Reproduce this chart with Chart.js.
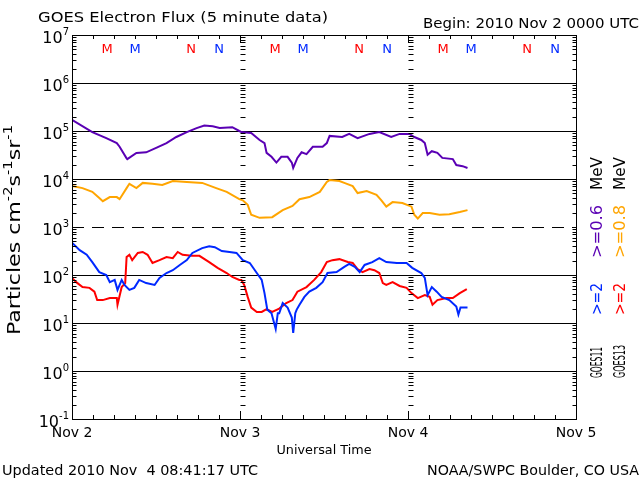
<!DOCTYPE html>
<html><head><meta charset="utf-8">
<script src="https://cdn.jsdelivr.net/npm/chart.js@4.4.0/dist/chart.umd.min.js"></script>
<style>html,body{margin:0;padding:0;background:#fff;overflow:hidden}canvas{display:block}</style>
</head><body>
<canvas id="c" width="640" height="480" style="width:640px;height:480px"></canvas>
<script>
// ---------- DATA (hours since 2010 Nov 2 00:00 UTC, flux in particles cm^-2 s^-1 sr^-1) ----------
const purpleT = [0,2.9,4.9,6.4,6.8,7.8,7.9,9.2,10.6,12.1,13.5,14.9,16.4,17.8,18.9,20.1,21.1,22.9,23.9,24.2,25.6,26.8,27.5,27.8,28.5,29.2,29.9,30.8,31.4,31.6,32.2,32.8,33.5,34.4,35.8,36.4,36.8,38.6,39.6,40.8,42.5,43.9,45.6,46.8,48.2,48.9,49.9,50.4,50.8,51.4,52.2,52.9,54.4,54.9,55.8,56.5];
const purpleV = [1.7e5,9.5e4,7.1e4,5.6e4,4.7e4,2.7e4,2.6e4,3.5e4,3.6e4,4.5e4,5.6e4,7.5e4,9.5e4,1.15e5,1.3e5,1.25e5,1.15e5,1.2e5,1.0e5,9.5e4,9.1e4,6.5e4,5.6e4,3.5e4,2.9e4,2.2e4,2.9e4,2.9e4,2.2e4,1.7e4,2.75e4,3.6e4,3.3e4,4.7e4,4.7e4,5.6e4,7.9e4,7.5e4,8.7e4,7.1e4,8.7e4,9.5e4,7.5e4,8.7e4,8.7e4,7.5e4,6.5e4,5.6e4,3.2e4,3.8e4,3.5e4,2.75e4,2.6e4,1.95e4,1.85e4,1.7e4];

const orangeT = [0,1.5,2.9,3.9,4.4,5.4,6.4,6.8,7.8,8.2,9.2,10.1,11.5,12.9,14.4,16.4,18.6,20.6,22.1,23.9,24.4,25.1,25.6,26.8,28.6,30.1,31.5,32.5,33.9,35.4,36.4,36.8,38.2,38.9,40.1,40.8,42.1,43.5,44.2,44.9,45.8,47.2,48.5,48.9,49.4,50.1,51.1,52.5,53.9,55.4,56.5];
const orangeV = [7150,6450,5400,4000,3450,4200,4200,3800,6450,7950,6450,8300,7950,7500,9100,8700,8300,6450,5400,3800,3600,2900,1800,1550,1600,2250,2750,3800,4200,5400,8700,9500,9100,8300,7100,5100,5600,4700,3600,2650,3300,3150,2650,1800,1500,1950,1950,1800,1850,2050,2250];

const blueT = [0,1.1,2.1,2.9,3.9,4.9,5.4,6.1,6.5,7.1,7.5,8.2,8.9,9.6,10.6,11.8,12.5,13.5,14.4,15.4,16.4,17.2,18.6,19.6,20.4,21.4,22.5,23.5,24.4,25.4,26.4,27.1,27.5,27.9,28.5,29.1,29.4,29.6,30.1,30.8,31.4,31.6,31.9,32.1,32.5,33.2,33.9,34.9,35.8,36.5,37.8,38.9,39.6,40.4,41.1,41.8,42.9,43.9,44.9,46.4,47.8,48.6,49.9,50.4,50.8,51.4,52.1,52.8,53.9,54.9,55.2,55.5,56.5];
const blueV = [470,330,265,185,115,100,71,79,49,79,62,49,54,79,68,62,87,110,126,162,204,288,363,398,380,316,302,288,204,178,110,79,42,19,16,7.5,16,16,26,21,13,6.2,16,19,24,35,45,54,71,110,115,148,170,148,115,162,186,224,186,178,178,141,110,87,38,56,45,35,30,22,15,21,21];

const redT = [0,0.6,1.5,2.5,3.2,3.6,4.4,5.4,6.4,6.5,7.1,7.6,7.8,8.2,8.6,9.4,10.1,10.8,11.5,12.5,13.5,14.4,15.1,15.8,17.1,18.2,19.6,20.8,22.1,22.9,23.9,24.2,24.6,25.1,25.6,26.4,27.1,27.8,28.6,29.6,30.6,31.5,32.2,33.5,34.6,35.6,36.4,37.2,38.2,39.4,40.1,40.8,41.5,42.5,43.2,43.9,44.4,44.9,45.8,46.8,47.8,48.5,49.4,50.4,51.1,51.5,52.2,53.5,54.4,55.4,56.4];
const redV = [87,71,56,54,45,30,30,33,33,24,56,68,237,263,204,288,302,263,178,204,237,224,302,263,251,251,186,141,110,91,79,79,62,35,21,17,17,19.5,17,20,26,30,45,56,79,115,186,204,214,186,178,133,115,133,126,110,68,62,71,59,54,42,33,38,35,24,30,33,33,42,51];

const seriesNames  = ['GOES13 >=0.8 MeV','GOES11 >=0.6 MeV','GOES11 >=2 MeV','GOES13 >=2 MeV'];
const yTickExponents = [-1,0,1,2,3,4,5,6,7];
const xTickHours = [0,24,48,72];
const xTickLabels = ['Nov 2','Nov 3','Nov 4','Nov 5'];
const mnLabels = ['M','M','N','N'];
const mnHours  = [5,9,17,21];
const mnSat    = ['G13','G11','G13','G11'];
const days = [0,1,2];

const C_PURPLE = '#5a00b4', C_ORANGE = '#ffa500', C_BLUE = '#0028ff', C_RED = '#ff0000';
const FONT = '"DejaVu Sans", sans-serif';

function pts(t, v) { return t.map((x, i) => ({x: x, y: v[i]})); }

function hText(ctx, text, x, y, size, width, align, color) {
  ctx.save();
  ctx.font = size + 'px ' + FONT;
  const w = ctx.measureText(text).width;
  ctx.translate(x, y);
  ctx.scale(width / w, 1);
  ctx.textAlign = align; ctx.textBaseline = 'middle';
  ctx.fillStyle = color || '#000';
  ctx.fillText(text, 0, 0);
  ctx.restore();
}
function vText(ctx, text, cx, yBottom, yTop, size, color) {
  ctx.save();
  ctx.font = size + 'px ' + FONT;
  const w = ctx.measureText(text).width;
  ctx.translate(cx, yBottom);
  ctx.rotate(-Math.PI / 2);
  ctx.scale((yBottom - yTop) / w, 1);
  ctx.textAlign = 'left'; ctx.textBaseline = 'middle';
  ctx.fillStyle = color;
  ctx.fillText(text, 0, 0);
  ctx.restore();
}

const decor = {
  id: 'decor',
  beforeDatasetsDraw(chart) {
    const ctx = chart.ctx, xs = chart.scales.x, ys = chart.scales.y, a = chart.chartArea;
    ctx.save();
    ctx.strokeStyle = '#000'; ctx.lineWidth = 1;
    for (const e of yTickExponents) {
      if (e <= -1 || e >= 7) continue;
      const y = Math.round(ys.getPixelForValue(Math.pow(10, e))) + 0.5;
      ctx.setLineDash(e === 3 ? [12, 8] : []);
      ctx.beginPath(); ctx.moveTo(a.left, y); ctx.lineTo(a.right, y); ctx.stroke();
    }
    ctx.setLineDash([]);
    ctx.restore();
  },
  afterDraw(chart) {
    const ctx = chart.ctx, xs = chart.scales.x, ys = chart.scales.y, a = chart.chartArea;
    ctx.save();
    ctx.strokeStyle = '#000'; ctx.lineWidth = 1;
    // frame
    ctx.strokeRect(Math.round(a.left) + 0.5, Math.round(a.top) + 0.5, Math.round(a.right - a.left), Math.round(a.bottom - a.top));
    // minor log ticks on axes and day lines
    const cols = [{x: a.left, d: 4}, {x: a.right, d: -4}];
    for (const h of [24, 48]) cols.push({x: xs.getPixelForValue(h), d: 5});
    ctx.beginPath();
    for (let e = -1; e < 7; e++) {
      for (let m = 2; m <= 9; m++) {
        const y = Math.round(ys.getPixelForValue(m * Math.pow(10, e))) + 0.5;
        for (const c of cols) { const x0 = Math.round(c.x) + 0.5; ctx.moveTo(x0, y); ctx.lineTo(x0 + c.d, y); }
      }
    }
    // time ticks every 3 h
    for (let h = 3; h < 72; h += 3) {
      const x = Math.round(xs.getPixelForValue(h)) + 0.5;
      const L = (h % 24 === 0) ? 8 : 4;
      ctx.moveTo(x, a.top); ctx.lineTo(x, a.top + L);
      ctx.moveTo(x, a.bottom); ctx.lineTo(x, a.bottom - L);
    }
    ctx.stroke();

    // y tick labels
    for (const e of yTickExponents) {
      const y = ys.getPixelForValue(Math.pow(10, e));
      const ex = e < 0 ? '-' + (-e) : String(e);
      ctx.font = '10px ' + FONT; ctx.textAlign = 'right'; ctx.textBaseline = 'middle'; ctx.fillStyle = '#000';
      const ew = ctx.measureText(ex).width;
      ctx.fillText(ex, 69, y - 3);
      ctx.font = '16px ' + FONT;
      ctx.fillText('10', 69 - ew, y + 4);
    }
    // x tick labels
    ctx.font = '14px ' + FONT; ctx.textAlign = 'center'; ctx.textBaseline = 'middle';
    xTickHours.forEach((h, i) => ctx.fillText(xTickLabels[i], xs.getPixelForValue(h), 433));
    hText(ctx, 'Universal Time', (a.left + a.right) / 2, 451, 13, 95, 'center');

    // M / N markers
    ctx.font = '13px ' + FONT; ctx.textAlign = 'center'; ctx.textBaseline = 'middle';
    for (const d of days) mnHours.forEach((h, i) => {
      ctx.fillStyle = mnSat[i] === 'G13' ? C_RED : C_BLUE;
      ctx.fillText(mnLabels[i], xs.getPixelForValue(d * 24 + h), 50);
    });

    // header / footer
    hText(ctx, 'GOES Electron Flux (5 minute data)', 38, 18, 14, 290, 'left');
    hText(ctx, 'Begin: 2010 Nov 2 0000 UTC', 639, 24, 14, 216, 'right');
    hText(ctx, 'Updated 2010 Nov  4 08:41:17 UTC', 2, 471, 14, 256, 'left');
    hText(ctx, 'NOAA/SWPC Boulder, CO USA', 639, 471, 14, 212, 'right');

    // right-side legend
    const segs1 = [['GOES11', 378, 347, '#000'], ['>=2', 315, 283, C_BLUE], ['>=0.6', 258, 205, C_PURPLE], ['MeV', 190, 157, '#000']];
    const segs2 = [['GOES13', 378, 345, '#000'], ['>=2', 315, 283, C_RED], ['>=0.8', 258, 205, C_ORANGE], ['MeV', 190, 157, '#000']];
    segs1.forEach(s => vText(ctx, s[0], 598, s[1], s[2], 16, s[3]));
    segs2.forEach(s => vText(ctx, s[0], 621, s[1], s[2], 16, s[3]));

    // y axis title
    const parts = [['Particles cm', 0], ['-2', 1], ['s', 0], ['-1', 1], ['sr', 0], ['-1', 1]];
    let tw = 0;
    parts.forEach(p => { ctx.font = (p[1] ? 12 : 18) + 'px ' + FONT; tw += ctx.measureText(p[0]).width; });
    const yb = 335, yt = 125;
    ctx.save();
    ctx.translate(15, yb); ctx.rotate(-Math.PI / 2); ctx.scale((yb - yt) / tw, 1);
    ctx.textAlign = 'left'; ctx.textBaseline = 'middle'; ctx.fillStyle = '#000';
    let px = 0;
    parts.forEach(p => {
      ctx.font = (p[1] ? 12 : 18) + 'px ' + FONT;
      ctx.fillText(p[0], px, p[1] ? -6 : 0);
      px += ctx.measureText(p[0]).width;
    });
    ctx.restore();
    ctx.restore();
  }
};

new Chart(document.getElementById('c'), {
  type: 'line',
  data: {
    datasets: [
      {label: seriesNames[0], data: pts(orangeT, orangeV), borderColor: C_ORANGE},
      {label: seriesNames[1], data: pts(purpleT, purpleV), borderColor: C_PURPLE},
      {label: seriesNames[2], data: pts(blueT, blueV), borderColor: C_BLUE},
      {label: seriesNames[3], data: pts(redT, redV), borderColor: C_RED}
    ].map(d => Object.assign(d, {borderWidth: 2, pointRadius: 0, tension: 0, fill: false}))
  },
  options: {
    responsive: false, animation: false, devicePixelRatio: 1,
    layout: {padding: {left: 72, right: 64, top: 35, bottom: 61}},
    plugins: {legend: {display: false}, tooltip: {enabled: false}, title: {display: false}},
    scales: {
      x: {type: 'linear', min: 0, max: 72, display: false},
      y: {type: 'logarithmic', min: 0.1, max: 1e7, display: false}
    }
  },
  plugins: [decor]
});
</script></body></html>
